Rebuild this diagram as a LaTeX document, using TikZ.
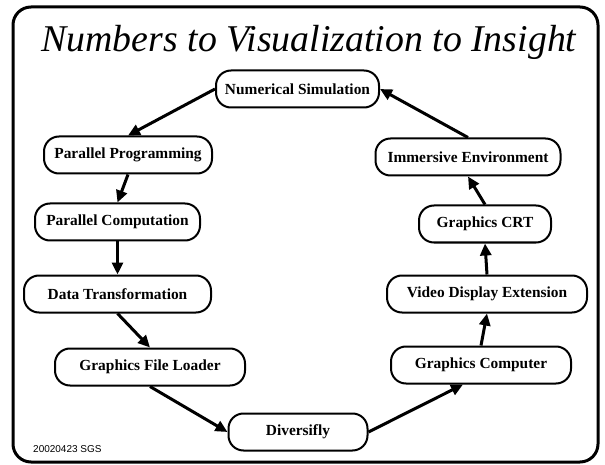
\documentclass[tikz,border=0pt]{standalone}
\usepackage{fontspec}
\setmainfont{Liberation Serif}
\newfontfamily\datefont{Liberation Sans}
\usetikzlibrary{arrows.meta}

\begin{document}
\begin{tikzpicture}[x=1pt, y=-1pt,
	rnd/.style={draw, line width=2pt, rounded corners=15pt, minimum height=37pt,
	inner sep=0pt, font=\fontsize{15.4}{18}\selectfont\bfseries},
	arr/.style={line width=3pt, -{Triangle[length=12pt,width=11pt]}}]
\useasboundingbox (0,0) rectangle (605,465);
\draw[line width=3pt, rounded corners=18pt] (13,7) rectangle (598,462);
\node[anchor=base, font=\fontsize{37.8}{40}\selectfont\itshape] (t) at (309,52) {Numbers to Visualization to Insight};
\node[anchor=base west, inner sep=0pt, font=\datefont\fontsize{10}{12}\selectfont] (d) at (33,452) {20020423 SGS};
% the loop of stages
\node[rnd, minimum width=163pt] (0) at (297.5,89) {Numerical Simulation};
\node[rnd, minimum width=168pt] (1) at (128,155) {Parallel Programming};
\node[rnd, minimum width=165pt] (2) at (117.5,222) {Parallel Computation};
\node[rnd, minimum width=187pt] (3) at (117.5,294) {Data Transformation};
\node[rnd, minimum width=190pt] (4) at (150,367) {Graphics File Loader};
\node[rnd, minimum width=139pt] (5) at (298,432) {Diversifly};
\node[rnd, minimum width=180pt] (6) at (481,365) {Graphics Computer};
\node[rnd, minimum width=200pt] (7) at (487,294) {Video Display Extension};
\node[rnd, minimum width=132pt] (8) at (485,224) {Graphics CRT};
\node[rnd, minimum width=185pt] (9) at (468,157) {Immersive Environment};
\draw[arr] (0.west) to (1.north);
\draw[arr] (1.south) to (2.north);
\draw[arr] (2.south) to (3.north);
\draw[arr] (3.south) to (4.north);
\draw[arr] (4.south) to (5.west);
\draw[arr] (5.east) to ([xshift=-18pt]6.south);
\draw[arr] (6.north) to (7.south);
\draw[arr] (7.north) to (8.south);
\draw[arr] (8.north) to (9.south);
\draw[arr] (9.north) to (0.east);
\end{tikzpicture}
\end{document}
